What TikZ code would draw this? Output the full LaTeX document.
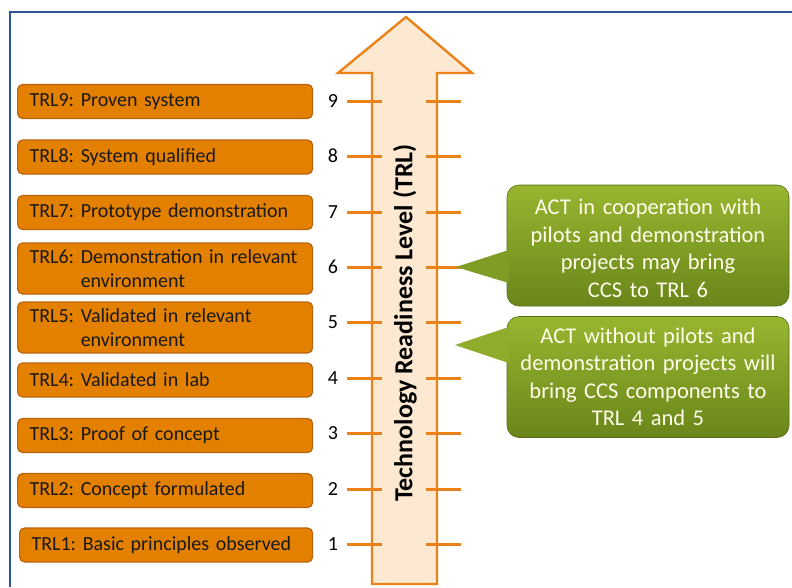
\documentclass[tikz,border=0pt]{standalone}
\usepackage{fontspec}
\setmainfont{Carlito}
\frenchspacing
\definecolor{trlorange}{RGB}{228,128,0}
\definecolor{trledge}{RGB}{185,100,15}
\definecolor{trlline}{RGB}{235,130,25}
\definecolor{trlpale}{RGB}{253,233,210}
\definecolor{acttop}{RGB}{152,182,48}
\definecolor{actbottom}{RGB}{106,134,26}
\definecolor{frameblue}{RGB}{47,85,151}
\usetikzlibrary{positioning}

\begin{document}
\begin{tikzpicture}[x=1pt, y=-1pt, every node/.style={font=\fontsize{20}{24}\selectfont},
    trlbox/.style={draw=trledge, line width=1.2pt, fill=trlorange, rounded corners=5pt, anchor=west, minimum width=295pt, minimum height=34pt, text width=271pt, inner xsep=12pt, inner ysep=2pt, align=left, text=black!90},
    actbox/.style={draw=actbottom!80!black, line width=0.6pt, top color=acttop, bottom color=actbottom, rounded corners=12pt, minimum width=282pt, minimum height=121pt, text width=276pt, inner xsep=3pt, align=center, text={white!92!yellow}, font=\fontsize{22.5}{27.5}\selectfont},
    tick/.style={trlline, line width=3pt}]
    \useasboundingbox (0,0) rectangle (792,587);

    % Frame
    \draw[frameblue, line width=2pt] (10,587) -- (10,12) -- (792,12);

    % Arrow
    \draw[trlline, fill=trlpale, line width=2.4pt, line join=miter] (372,584) -- (372,73) -- (338,73) -- (406,17) -- (472,73) -- (437,73) -- (437,584) -- cycle;
    \node[rotate=90, font=\fontsize{26}{28}\bfseries] (axis) at (405,323) {Technology Readiness Level (TRL)};

    % Ticks
    \draw[tick] (347,101) -- (382,101) (426,101) -- (461,101);
    \draw[tick] (347,156) -- (382,156) (426,156) -- (461,156);
    \draw[tick] (347,212) -- (382,212) (426,212) -- (461,212);
    \draw[tick] (347,267) -- (382,267) (426,267) -- (461,267);
    \draw[tick] (347,322) -- (382,322) (426,322) -- (461,322);
    \draw[tick] (347,378) -- (382,378) (426,378) -- (461,378);
    \draw[tick] (347,433) -- (382,433) (426,433) -- (461,433);
    \draw[tick] (347,489) -- (382,489) (426,489) -- (461,489);
    \draw[tick] (347,544) -- (382,544) (426,544) -- (461,544);

    % Levels
    \node (n9) at (333,101) {9};
    \node (n8) at (333,156) {8};
    \node (n7) at (333,212) {7};
    \node (n6) at (333,267) {6};
    \node (n5) at (333,322) {5};
    \node (n4) at (333,378) {4};
    \node (n3) at (333,433) {3};
    \node (n2) at (333,489) {2};
    \node (n1) at (333,544) {1};

    % Boxes
    \node[trlbox] (trl9) at (17,101.5) {TRL9: Proven system};
    \node[trlbox] (trl8) at (17,157) {TRL8: System qualified};
    \node[trlbox] (trl7) at (17,212.5) {TRL7: Prototype demonstration};
    \node[trlbox, minimum height=51pt] (trl6) at (17,268.5) {\mbox{TRL6: Demonstration in relevant}\\\phantom{TRL6: }environment};
    \node[trlbox, minimum height=51pt] (trl5) at (17,327.5) {\mbox{TRL5: Validated in relevant}\\\phantom{TRL5: }environment};
    \node[trlbox] (trl4) at (17,380) {TRL4: Validated in lab};
    \node[trlbox] (trl3) at (17,435.5) {TRL3: Proof of concept};
    \node[trlbox] (trl2) at (17,490.5) {TRL2: Concept formulated};
    \node[trlbox, minimum width=293pt, text width=269pt] (trl1) at (19,545) {TRL1: Basic principles observed};

    % Callouts
    \node[actbox] (act6) at (648,245.5) {\rule{0pt}{21pt}ACT in cooperation with\\pilots and demonstration\\projects may bring\\CCS to TRL 6};
    \node[actbox] (act45) at (648,377) {ACT without pilots and\\demonstration projects will\\bring CCS components to\\TRL 4 and 5};
    \coordinate (tip6) at (456,267);
    \coordinate (tip45) at (455,345);
    \fill[acttop!45!actbottom] (tip6) -- ([xshift=2pt, yshift=-4.5pt]act6.west) -- ([xshift=2pt, yshift=-37.5pt]act6.west) -- cycle;
    \fill[acttop!80!actbottom] (tip45) -- ([xshift=2pt, yshift=50pt]act45.west) -- ([xshift=2pt, yshift=14pt]act45.west) -- cycle;
\end{tikzpicture}
\end{document}
